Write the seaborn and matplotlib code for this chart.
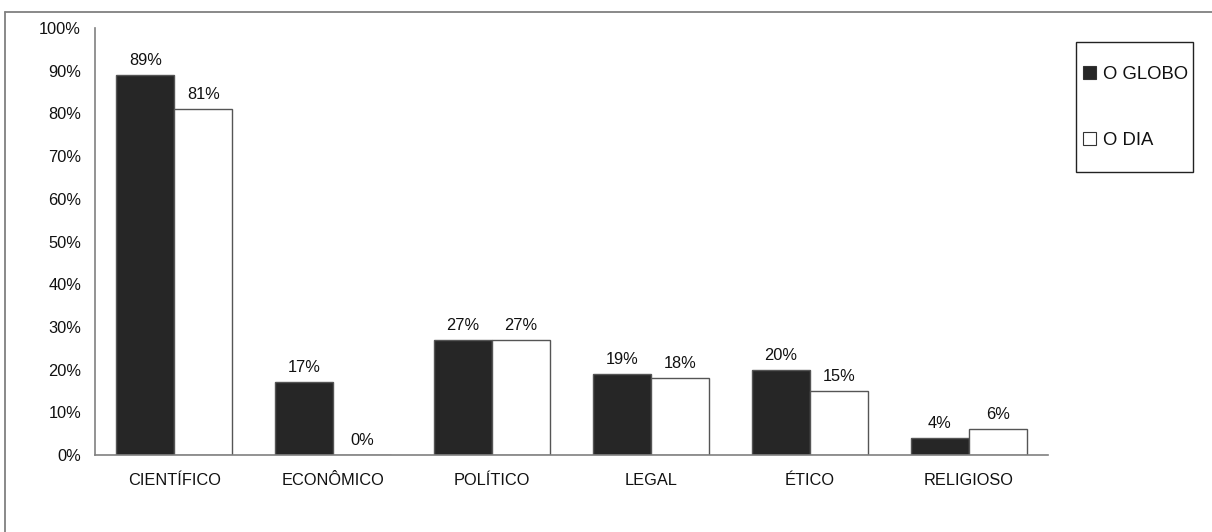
import matplotlib
matplotlib.use("Agg")
import matplotlib.pyplot as plt
from matplotlib.patches import Patch, Rectangle
from matplotlib.lines import Line2D
import seaborn as sns
import pandas as pd

categories = ["CIENTÍFICO", "ECONÔMICO", "POLÍTICO", "LEGAL", "ÉTICO", "RELIGIOSO"]
series = ["O GLOBO", "O DIA"]
o_globo = [89, 17, 27, 19, 20, 4]
o_dia = [81, 0, 27, 18, 15, 6]
y_ticks = [0, 10, 20, 30, 40, 50, 60, 70, 80, 90, 100]

df = pd.DataFrame({
    "categoria": categories * 2,
    "jornal": [series[0]] * len(categories) + [series[1]] * len(categories),
    "valor": o_globo + o_dia,
})

sns.set_theme(style="white")
plt.rcParams["font.family"] = ["Liberation Sans", "DejaVu Sans"]

FS = 11.8
W, H = 1212, 532
fig = plt.figure(figsize=(W / 100, H / 100), dpi=100)
ax = fig.add_axes([95 / W, (H - 455) / H, (1048 - 95) / W, (455 - 28) / H])

colors = {"O GLOBO": "#262626", "O DIA": "#ffffff"}
sns.barplot(data=df, x="categoria", y="valor", hue="jornal", order=categories,
            hue_order=series, palette=colors, width=0.73, edgecolor="#555555",
            linewidth=1.0, legend=False, ax=ax)

for container in ax.containers:
    ax.bar_label(container, labels=[f"{v:.0f}%" for v in container.datavalues],
                 padding=5, fontsize=FS, color="#111111")

ax.set_ylim(0, 100)
ax.set_xlim(-0.5, len(categories) - 0.5)
ax.set_yticks(y_ticks)
ax.set_yticklabels([f"{t}%" for t in y_ticks], fontsize=FS, color="#111111")
ax.tick_params(axis="x", labelsize=FS, colors="#111111", length=0, pad=13)
ax.tick_params(axis="y", length=0, pad=10)
ax.set_xlabel("")
ax.set_ylabel("")
for side in ["top", "right"]:
    ax.spines[side].set_visible(False)
for side in ["left", "bottom"]:
    ax.spines[side].set_color("#808080")
    ax.spines[side].set_linewidth(1.2)

# outer frame (top and left edges)
fig.add_artist(Line2D([5 / W, 5 / W], [0, 1 - 11.5 / H], transform=fig.transFigure,
                      color="#808080", lw=1.3))
fig.add_artist(Line2D([5 / W, 1], [1 - 11.5 / H, 1 - 11.5 / H], transform=fig.transFigure,
                      color="#808080", lw=1.3))

# legend box
fig.add_artist(Rectangle((1076 / W, 1 - 172 / H), (1193 - 1076) / W, (172 - 42) / H,
                         transform=fig.transFigure, facecolor="white",
                         edgecolor="#222222", linewidth=1.0))
handles = [Patch(facecolor=colors[s], edgecolor="#333333", linewidth=0.8, label=s) for s in series]
leg = fig.legend(handles=handles, loc="upper left",
                 bbox_to_anchor=(1083 / W, 1 - 66 / H),
                 frameon=False, fontsize=13.3,
                 handlelength=0.68, handleheight=0.68, handletextpad=0.38,
                 labelspacing=2.65, borderpad=0, borderaxespad=0)
for t in leg.get_texts():
    t.set_color("#111111")

fig.savefig("out.png", dpi=100, facecolor="white")
